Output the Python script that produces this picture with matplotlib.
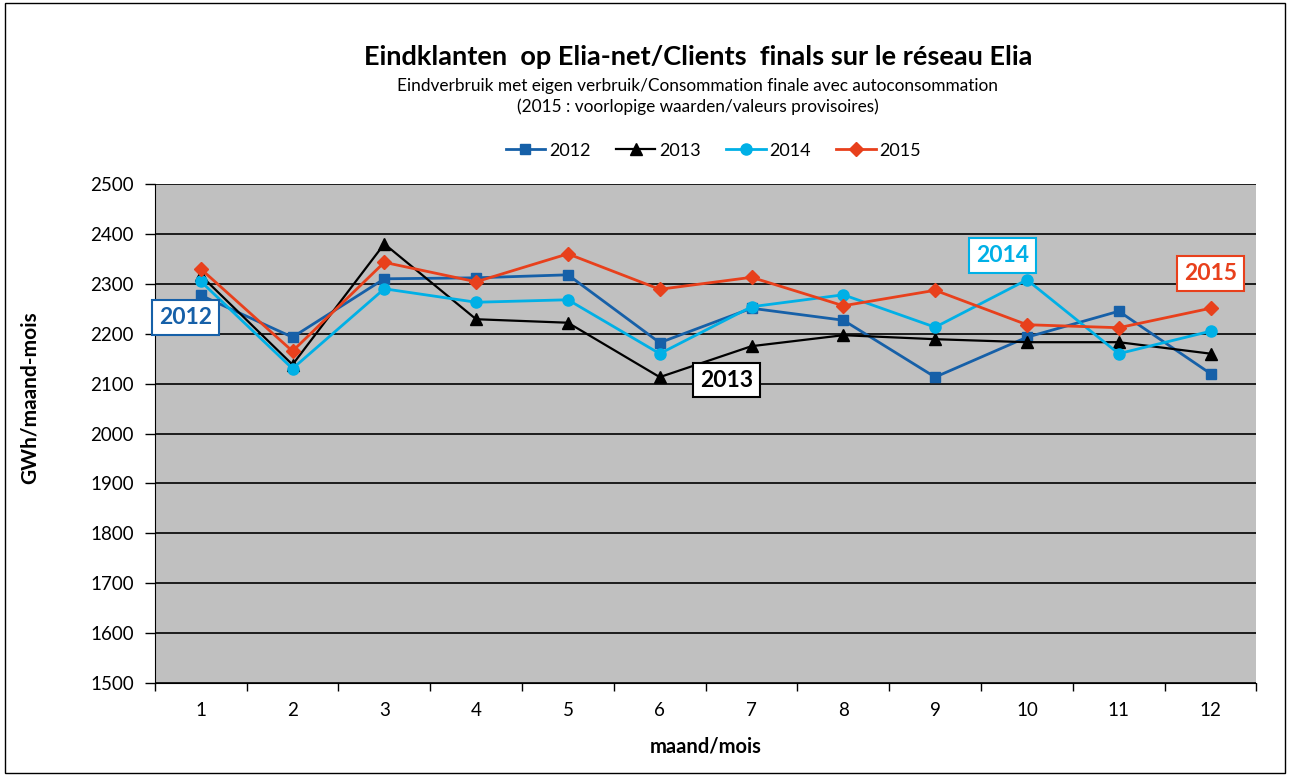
import matplotlib
matplotlib.use("Agg")
import matplotlib.pyplot as plt
from matplotlib.patches import Rectangle

plt.rcParams['font.family'] = ['Lato', 'DejaVu Sans']

months = [1, 2, 3, 4, 5, 6, 7, 8, 9, 10, 11, 12]
v2012 = [2277, 2193, 2310, 2312, 2318, 2182, 2251, 2227, 2113, 2193, 2245, 2120]
v2013 = [2317, 2138, 2380, 2229, 2222, 2113, 2175, 2197, 2189, 2183, 2183, 2160]
v2014 = [2305, 2130, 2290, 2263, 2268, 2160, 2254, 2278, 2213, 2308, 2160, 2205]
v2015 = [2330, 2165, 2343, 2304, 2360, 2289, 2313, 2256, 2287, 2218, 2212, 2251]
series_names = ['2012', '2013', '2014', '2015']
yticks = [1500, 1600, 1700, 1800, 1900, 2000, 2100, 2200, 2300, 2400, 2500]

c2012 = '#1660A8'
c2013 = '#000000'
c2014 = '#00B0E6'
c2015 = '#E8401C'

fig = plt.figure(figsize=(12.9, 7.76), dpi=100)
ax = fig.add_axes([0.120, 0.1198, 0.854, 0.6431])
ax.set_facecolor('#C0C0C0')

ax.plot(months, v2012, color=c2012, marker='s', markersize=7, lw=2, label=series_names[0], zorder=3)
ax.plot(months, v2013, color=c2013, marker='^', markersize=8, lw=1.6, label=series_names[1], zorder=3)
ax.plot(months, v2014, color=c2014, marker='o', markersize=8, lw=2, label=series_names[2], zorder=3)
ax.plot(months, v2015, color=c2015, marker='D', markersize=7, lw=2, label=series_names[3], zorder=3)

ax.set_xlim(0.5, 12.5)
ax.set_ylim(1500, 2500)
ax.set_yticks(yticks)
ax.set_yticklabels([str(t) for t in yticks], fontsize=13.5)
ax.set_xticks(months)
ax.set_xticklabels([str(m) for m in months], fontsize=13.5)
ax.set_xticks([m + 0.5 for m in [0] + months], minor=True)
ax.tick_params(axis='x', which='major', length=0, pad=14)
ax.tick_params(axis='x', which='minor', length=6, direction='out', width=1)
ax.tick_params(axis='y', length=7, direction='out', width=1, pad=8)
ax.yaxis.grid(True, color='black', lw=1.2)
ax.set_axisbelow(True)
for s in ['top', 'right']:
    ax.spines[s].set_visible(False)
ax.spines['left'].set_color('black')
ax.spines['bottom'].set_color('black')

fig.text(30 / 1290, 1 - 398 / 776, 'GWh/maand-mois', rotation=90, ha='center', va='center',
         fontsize=15, fontweight='bold')
ax.set_xlabel('maand/mois', fontsize=14.5, fontweight='bold', labelpad=12)

fig.text(0.541, 0.926, 'Eindklanten  op Elia-net/Clients  finals sur le réseau Elia',
         ha='center', va='center', fontsize=19.5, fontweight='bold')
fig.text(0.541, 0.889, 'Eindverbruik met eigen verbruik/Consommation finale avec autoconsommation',
         ha='center', va='center', fontsize=12.4)
fig.text(0.541, 0.863, '(2015 : voorlopige waarden/valeurs provisoires)',
         ha='center', va='center', fontsize=12.4)

leg = fig.legend(loc='center', bbox_to_anchor=(0.553, 0.806), ncol=4, frameon=False,
                 fontsize=13, handlelength=2.2, handletextpad=0.2, columnspacing=1.4)

def tag(x, y, text, color):
    ax.text(x, y, text, ha='center', va='center', fontsize=16.5, fontweight='bold', color=color,
            bbox=dict(boxstyle='square,pad=0.3', fc='white', ec=color, lw=1.5), zorder=5)

tag(0.836, 2233, '2012', c2012)
tag(6.725, 2107, '2013', c2013)
tag(9.735, 2356, '2014', c2014)
tag(12.0, 2320, '2015', c2015)

fig.patches.append(Rectangle((0.004, 0.004), 0.992, 0.992, transform=fig.transFigure,
                             fill=False, ec='black', lw=1))

fig.savefig('out.png', dpi=100)
